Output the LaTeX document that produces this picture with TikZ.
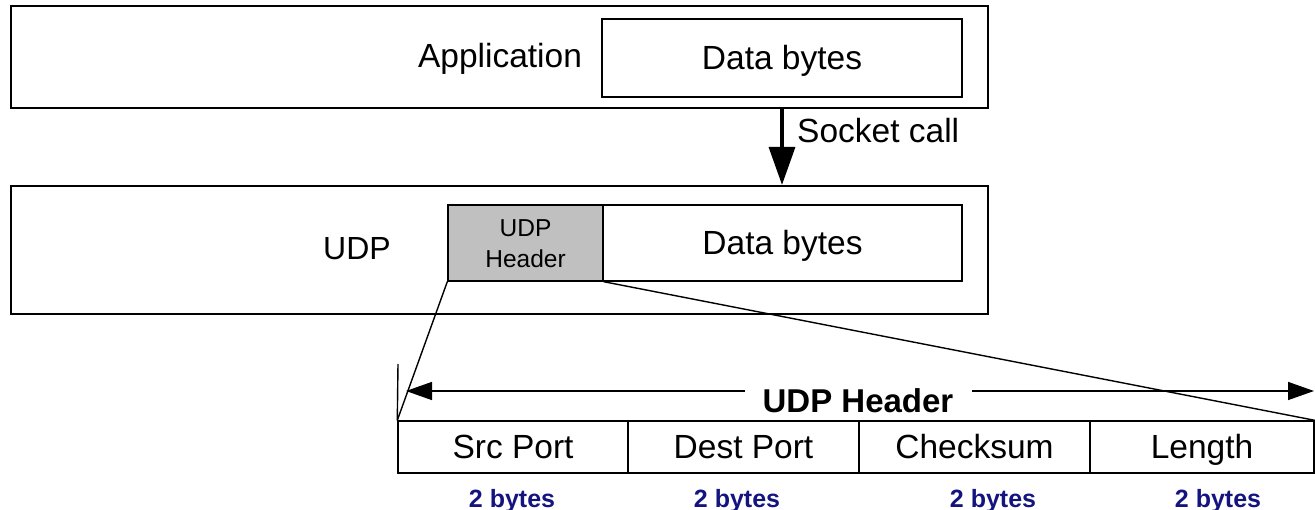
\documentclass[tikz,border=0pt]{standalone}
\usepackage{fontspec}
\setmainfont{Liberation Sans}
\usetikzlibrary{arrows.meta}
\definecolor{hdrgray}{RGB}{192,192,192}
\definecolor{bytesblue}{RGB}{20,20,128}
\tikzset{
  outerbox/.style={draw, line width=2.2pt, inner sep=0pt},
  databox/.style={draw, line width=1.4pt, inner sep=0pt},
  hdrbox/.style={draw, fill=hdrgray, line width=1.4pt, inner sep=0pt},
  fieldbox/.style={draw, line width=1.4pt, inner sep=0pt, minimum height=52pt},
  lbl/.style={inner sep=0pt, anchor=base, font=\fontsize{33.5}{40}\selectfont},
  layerlbl/.style={inner sep=0pt, anchor=base, font=\fontsize{32}{38}\selectfont},
  smalllbl/.style={inner sep=0pt, anchor=base, font=\fontsize{24.5}{28}\selectfont},
  titlelbl/.style={inner sep=0pt, anchor=base, font=\fontsize{33}{38}\selectfont\bfseries},
  byteslbl/.style={inner sep=0pt, anchor=base, text=bytesblue, font=\fontsize{25}{30}\selectfont\bfseries},
  thin/.style={line width=1.4pt},
  callarrow/.style={line width=3.5pt, -{Triangle[length=38pt,width=26pt]}},
  spanarrow/.style={line width=1.5pt, -{Triangle[length=26pt,width=18pt]}},
}
\begin{document}
\begin{tikzpicture}[x=1pt,y=-1pt]
\useasboundingbox (0,0) rectangle (1315,510);

% application layer
\node[outerbox, minimum width=977pt, minimum height=102pt] (app) at (499.5,57) {};
\node[databox, minimum width=360pt, minimum height=78pt] (appdata) at (782,58) {};
\node[lbl] (appdatatxt) at (782,70) {Data bytes};
\node[lbl] (apptxt) at (500,68) {Application};

% UDP layer
\node[outerbox, minimum width=977pt, minimum height=128pt] (udp) at (499.5,250) {};
\node[hdrbox, minimum width=155pt, minimum height=76pt] (hdr) at (525.5,243) {};
\node[databox, minimum width=359pt, minimum height=76pt] (udpdata) at (782.5,243) {};
\node[smalllbl] (hdrtxt1) at (525.5,237) {UDP};
\node[smalllbl] (hdrtxt2) at (525.5,268) {Header};
\node[lbl] (udpdatatxt) at (782.5,255) {Data bytes};
\node[layerlbl] (udptxt) at (357,260) {UDP};

% socket call
\draw[callarrow] (app.south -| appdata.south) -- (udp.north -| appdata.south);
\node[lbl, anchor=base west] (socktxt) at (797,143) {Socket call};

% header fields
\node[fieldbox, minimum width=230pt] (src) at (513,447) {};
\node[fieldbox, minimum width=231pt] (dst) at (743.5,447) {};
\node[fieldbox, minimum width=231pt] (chk) at (974.5,447) {};
\node[fieldbox, minimum width=224pt] (len) at (1202,447) {};
\node[lbl] (srctxt) at (513,458) {Src Port};
\node[lbl] (dsttxt) at (743.5,458) {Dest Port};
\node[lbl] (chktxt) at (974.5,458) {Checksum};
\node[lbl] (lentxt) at (1202,458) {Length};

% expansion of the header
\draw[thin] (hdr.south west) -- (src.north west);
\draw[thin] (hdr.south east) -- (len.north east);

% span of the header
\coordinate (tick) at (398,364);
\draw[thin] (src.north west) -- (tick);
\node[titlelbl] (title) at (858,413) {UDP Header};
\coordinate (spanL) at (406,391);
\coordinate (spanR) at (1314,391);
\draw[spanarrow] (745,391) -- (spanL);
\draw[spanarrow] (972,391) -- (spanR);

% field sizes
\node[byteslbl] (b1) at (512,507) {2 bytes};
\node[byteslbl] (b2) at (737,507) {2 bytes};
\node[byteslbl] (b3) at (993,507) {2 bytes};
\node[byteslbl] (b4) at (1218,507) {2 bytes};
\end{tikzpicture}
\end{document}
